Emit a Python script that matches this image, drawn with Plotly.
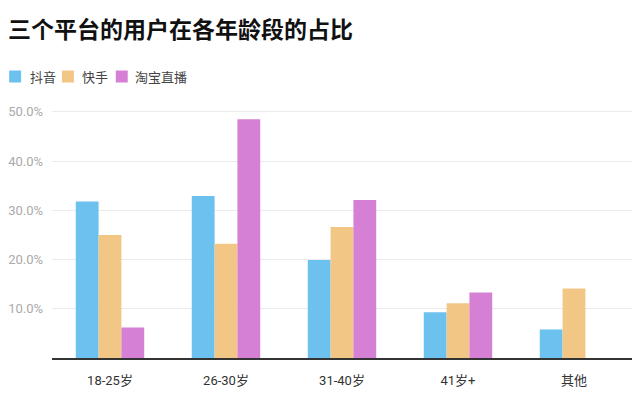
import plotly.graph_objects as go

categories = ["18-25岁", "26-30岁", "31-40岁", "41岁+", "其他"]
douyin = [31.8, 32.9, 19.9, 9.3, 5.8]
kuaishou = [25.0, 23.2, 26.6, 11.1, 14.1]
taobao = [6.2, 48.5, 32.1, 13.3, None]
series_names = ["抖音", "快手", "淘宝直播"]
ytick_vals = [10, 20, 30, 40, 50]
ytick_text = ["10.0%", "20.0%", "30.0%", "40.0%", "50.0%"]

colors = ["#6cc1ef", "#f2c785", "#d580d4"]
FONT = "Roboto, 'Noto Sans CJK SC', sans-serif"
CJK = "'Noto Sans CJK SC', sans-serif"

W, H = 640, 403
ML, MR, MT, MB = 50, 8, 107, 45
PW, PH = W - ML - MR, H - MT - MB


def px_x(px):
    return (px - ML) / PW


def px_y(py):
    return (H - MB - py) / PH


fig = go.Figure()
for name, vals, c in zip(series_names, [douyin, kuaishou, taobao], colors):
    fig.add_trace(go.Bar(x=categories, y=vals, name=name, marker_color=c,
                         marker_line_width=0, showlegend=False))

# custom compact legend (matches reference spacing)
legend_sq_x = [7, 60, 114]
legend_txt_x = [26, 78, 131]
sq_size = 12
legend_cy = 76.5
for name, c, sx, tx in zip(series_names, colors, legend_sq_x, legend_txt_x):
    fig.add_shape(type="rect", xref="paper", yref="paper",
                  x0=px_x(sx), x1=px_x(sx + sq_size),
                  y0=px_y(legend_cy + sq_size / 2), y1=px_y(legend_cy - sq_size / 2),
                  fillcolor=c, line_width=0)
    fig.add_annotation(xref="paper", yref="paper", x=px_x(tx), y=px_y(legend_cy),
                       xanchor="left", yanchor="middle", showarrow=False, text=name,
                       font=dict(size=13, color="#444", family=CJK))

fig.update_layout(
    width=W, height=H,
    paper_bgcolor="white", plot_bgcolor="white",
    margin=dict(l=ML, r=MR, t=MT, b=MB),
    barmode="group", bargap=0.41, bargroupgap=0,
    font=dict(family=FONT, color="#333"),
    title=dict(text="<b>三个平台的用户在各年龄段的占比</b>",
               font=dict(size=23, color="#111", family=CJK),
               x=8/W, xanchor="left", xref="container",
               y=1-30/H, yanchor="middle", yref="container"),
    showlegend=False,
)
fig.update_yaxes(range=[0, 51], tickvals=ytick_vals, ticktext=ytick_text,
                 showgrid=True, gridcolor="#ebebeb", gridwidth=1,
                 zeroline=False, showline=False,
                 tickfont=dict(size=13, color="#aaaaaa"), ticks="", ticklabelstandoff=8)
fig.update_xaxes(showline=True, linecolor="#333", linewidth=1.5,
                 tickfont=dict(size=13, color="#333"), ticks="", ticklabelstandoff=10)

fig.write_html("out.html", config={"displayModeBar": False},
               post_script="document.body.style.margin='0';")
